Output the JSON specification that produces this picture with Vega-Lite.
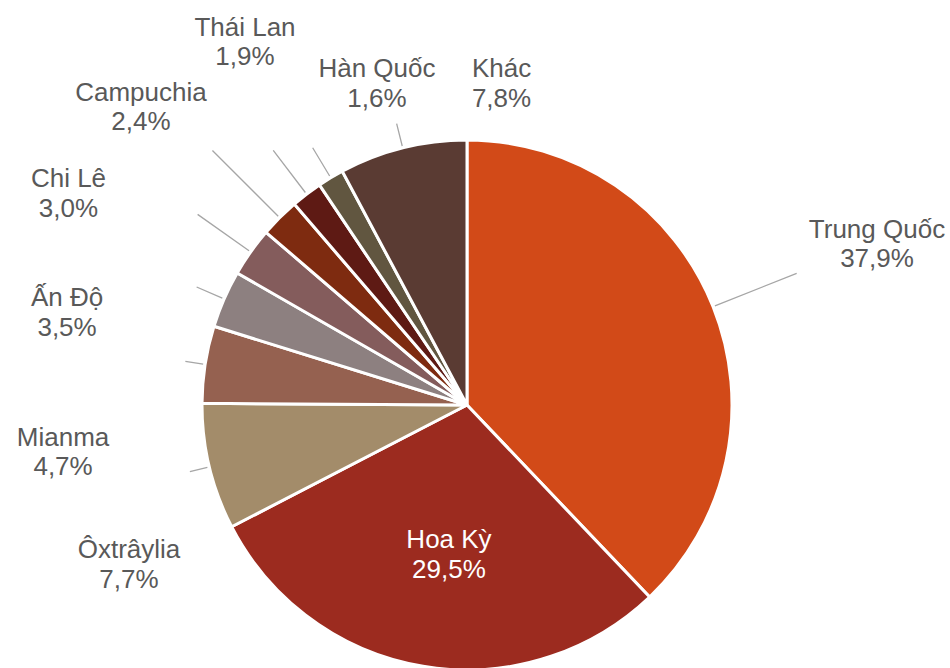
{
  "$schema": "https://vega.github.io/schema/vega-lite/v6.json",
  "width": 934,
  "height": 526,
  "autosize": {"type": "none"},
  "padding": {"left": 0, "top": 142, "right": 16, "bottom": 0},
  "background": "white",
  "config": {
    "view": {"stroke": null},
    "locale": {"number": {"decimal": ",", "thousands": ".", "grouping": [3], "currency": ["", ""]}}
  },
  "data": {
    "values": [
      {"country": "Trung Quốc", "share": 0.379},
      {"country": "Hoa Kỳ", "share": 0.295},
      {"country": "Ôxtrâylia", "share": 0.077},
      {"country": "Mianma", "share": 0.047},
      {"country": "Ấn Độ", "share": 0.035},
      {"country": "Chi Lê", "share": 0.030},
      {"country": "Campuchia", "share": 0.024},
      {"country": "Thái Lan", "share": 0.019},
      {"country": "Hàn Quốc", "share": 0.016},
      {"country": "Khác", "share": 0.078}
    ]
  },
  "transform": [{"window": [{"op": "row_number", "as": "idx"}]}],
  "encoding": {
    "theta": {"field": "share", "type": "quantitative", "stack": true},
    "order": {"field": "idx", "type": "quantitative"},
    "detail": {"field": "country", "type": "nominal"}
  },
  "layer": [
    {
      "mark": {"type": "arc", "outerRadius": 265, "stroke": "#ffffff", "strokeWidth": 3},
      "encoding": {
        "color": {
          "field": "country",
          "type": "nominal",
          "legend": null,
          "scale": {
            "domain": ["Trung Quốc", "Hoa Kỳ", "Ôxtrâylia", "Mianma", "Ấn Độ", "Chi Lê", "Campuchia", "Thái Lan", "Hàn Quốc", "Khác"],
            "range": ["#D24A18", "#9C2B1F", "#A38C6A", "#956150", "#8D8080", "#845C5C", "#7E2B10", "#5E1A14", "#615640", "#5A3B33"]
          }
        }
      }
    },
    {
      "mark": {
        "type": "arc",
        "innerRadius": 267,
        "outerRadius": {"expr": "[355,267,285,285,295,330,360,320,300,290][datum.idx-1]"},
        "padAngle": 3.1416,
        "fill": "transparent",
        "stroke": "#A6A6A6",
        "strokeWidth": 1.3
      }
    },
    {
      "mark": {
        "type": "text",
        "radius": 300,
        "font": "Liberation Sans",
        "fontSize": 26,
        "baseline": "middle",
        "align": "center",
        "dx": {"expr": "[131.4,31.7,-46.3,-107.5,-125,-153.6,-113.9,-40.4,64.3,107.3][datum.idx-1]"},
        "dy": {"expr": "[-49.2,-145.9,90,93.5,28,-37.5,-85.5,-123.7,-63.7,-30][datum.idx-1] - 14.75"}
      },
      "encoding": {
        "text": {"field": "country", "type": "nominal"},
        "color": {"condition": {"test": "datum.country === 'Hoa Kỳ'", "value": "#ffffff"}, "value": "#595959"}
      }
    },
    {
      "mark": {
        "type": "text",
        "radius": 300,
        "font": "Liberation Sans",
        "fontSize": 26,
        "baseline": "middle",
        "align": "center",
        "dx": {"expr": "[131.4,31.7,-46.3,-107.5,-125,-153.6,-113.9,-40.4,64.3,107.3][datum.idx-1]"},
        "dy": {"expr": "[-49.2,-145.9,90,93.5,28,-37.5,-85.5,-123.7,-63.7,-30][datum.idx-1] + 14.75"}
      },
      "encoding": {
        "text": {"field": "share", "type": "quantitative", "format": ".1%"},
        "color": {"condition": {"test": "datum.country === 'Hoa Kỳ'", "value": "#ffffff"}, "value": "#595959"}
      }
    }
  ]
}
